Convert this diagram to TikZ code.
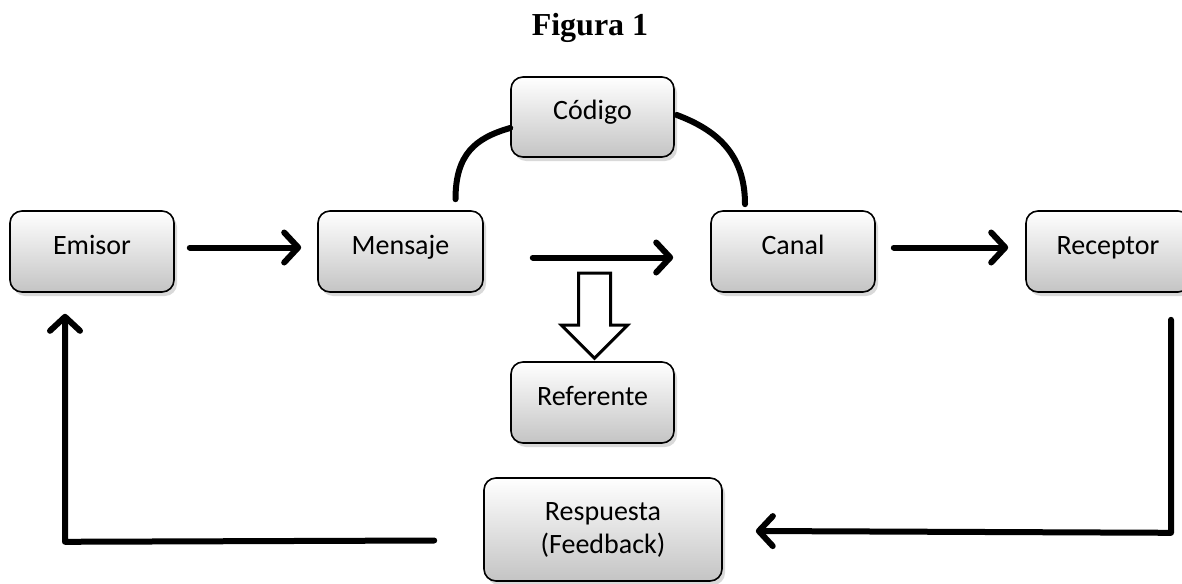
\documentclass[tikz,border=0pt]{standalone}
\usepackage{fontspec}
\setmainfont{Carlito}
\newfontfamily\titlefont{Liberation Serif}
\usetikzlibrary{arrows.meta,shadows,calc}
\definecolor{boxbot}{RGB}{196,196,196}
\tikzset{
  cbox/.style={draw=black, line width=1.6pt, rounded corners=12pt,
    top color=white, bottom color=boxbot, align=center,
    font=\fontsize{28}{33}\selectfont,
    drop shadow={shadow xshift=3pt, shadow yshift=-4pt, opacity=0.25, fill=black!60}},
  oneline/.style={text height=19pt, text depth=14pt},
  arr/.style={line width=6pt, line cap=round,
    -{Straight Barb[length=14pt, width=30pt, round]}},
  thick line/.style={line width=6pt, line cap=round, line join=round},
}
\begin{document}
\begin{tikzpicture}[x=1pt, y=-1pt]
\useasboundingbox (0,0) rectangle (1182,583);
\clip (0,0) rectangle (1182,583);
\node (title) at (590,28) {\titlefont\bfseries\fontsize{32}{36}\selectfont Figura 1};
\node[cbox, oneline, minimum width=164pt, minimum height=81pt] (emisor) at (92,251.5) {Emisor};
\node[cbox, oneline, minimum width=165pt, minimum height=81pt] (mensaje) at (400.5,251.5) {Mensaje};
\node[cbox, oneline, minimum width=163pt, minimum height=80pt] (codigo) at (592.5,117) {Código};
\node[cbox, oneline, minimum width=164pt, minimum height=81pt] (canal) at (793,251.5) {Canal};
\node[cbox, oneline, minimum width=164pt, minimum height=81pt] (receptor) at (1108,251.5) {Receptor};
\node[cbox, oneline, minimum width=163pt, minimum height=81pt] (referente) at (592.5,402.5) {Referente};
\node[cbox, minimum width=238pt, minimum height=103pt] (respuesta) at (603,529.5) {Respuesta\\(Feedback)};
% horizontal arrows
\draw[arr] ($(emisor.east)+(15,-4)$) -- ($(mensaje.west)+(-16,-4)$);
\draw[arr] ($(mensaje.east)+(49,6)$) -- ($(canal.west)+(-37,6)$);
\draw[arr] ($(canal.east)+(18,-4)$) -- ($(receptor.west)+(-17,-4)$);
% arcs to Codigo
\coordinate (a1) at ($(mensaje.north)+(55,-11)$);
\coordinate (a2) at ($(codigo.west)+(0,11)$);
\coordinate (b1) at ($(codigo.east)+(2,-2)$);
\coordinate (b2) at ($(canal.north)+(-48,-6)$);
\draw[thick line] (a1) .. controls ($(a1)+(0,-45)$) and ($(a2)+(-35,10)$) .. (a2);
\draw[thick line] (b1) .. controls ($(b1)+(40,15)$) and ($(b2)+(0,-50)$) .. (b2);
% hollow arrow to Referente
\coordinate (h) at ($(referente.north)+(2,-3)$);
\draw[line width=3pt, fill=white, line join=miter]
  ($(h)+(-16,-85)$) -- ($(h)+(16,-85)$) -- ($(h)+(16,-33)$) -- ($(h)+(33,-33)$)
  -- (h) -- ($(h)+(-33,-33)$) -- ($(h)+(-16,-33)$) -- cycle;
% feedback loop
\coordinate (r1) at ($(receptor.south)+(63,27)$);
\coordinate (r2) at ($(receptor.south)+(63,240)$);
\draw[thick line, -{Straight Barb[length=14pt, width=30pt, round]}]
  (r1) -- (r2) -- ($(respuesta.east)+(33,1.5)$);
\coordinate (l1) at ($(respuesta.west)+(-49,11)$);
\coordinate (l2) at ($(emisor.south)+(-27,249)$);
\draw[thick line, -{Straight Barb[length=14pt, width=30pt, round]}]
  (l1) -- (l2) -- ($(emisor.south)+(-27,21)$);
\end{tikzpicture}
\end{document}
